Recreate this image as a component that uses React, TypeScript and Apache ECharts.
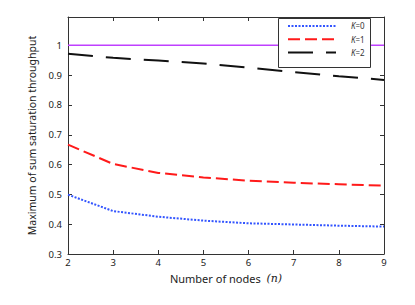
import React, { useEffect, useRef } from "react";
import * as echarts from "echarts";

const nodes = [2, 3, 4, 5, 6, 7, 8, 9];
const k0 = [0.499, 0.444, 0.425, 0.412, 0.403, 0.399, 0.395, 0.392];
const k1 = [0.667, 0.602, 0.572, 0.557, 0.546, 0.539, 0.534, 0.529];
const k2 = [0.972, 0.958, 0.949, 0.939, 0.925, 0.91, 0.896, 0.884];
const bound = [1, 1, 1, 1, 1, 1, 1, 1];
const seriesNames = ["K=0", "K=1", "K=2"];

const FONT = "Noto Sans";

export default function App() {
  const ref = useRef<HTMLDivElement>(null);
  useEffect(() => {
    const chart = echarts.init(ref.current!, undefined, { renderer: "svg" });
    const pair = (ys: number[]) => nodes.map((x, i) => [x, ys[i]]);
    const axisLine = { show: true, onZero: false, lineStyle: { color: "#333", width: 1 } };
    chart.setOption({
      animation: false,
      backgroundColor: "#fff",
      grid: { left: 68, right: 31, top: 17, bottom: 51 },
      graphic: [
        {
          type: "rect",
          z: 3,
          shape: { x: 278.5, y: 18.5, width: 92, height: 49 },
          style: { fill: "#fff", stroke: "#333", lineWidth: 1 },
        },
      ],
      legend: {
        data: seriesNames,
        orient: "vertical",
        left: 287,
        top: 21.5,
        padding: 0,
        z: 5,
        itemWidth: 48,
        itemHeight: 11,
        itemGap: 4.5,
        itemStyle: { opacity: 0 },
        formatter: (name: string) => `{k|K}{v|${name.slice(1)}}`,
        textStyle: {
          rich: {
            k: { fontFamily: FONT, fontStyle: "italic", fontSize: 8, lineHeight: 11, color: "#333", padding: [0, 0, 0, 10] },
            v: { fontFamily: FONT, fontSize: 8, lineHeight: 11, color: "#333" },
          },
        },
      },
      xAxis: [
        {
          type: "value",
          min: 2,
          max: 9,
          interval: 1,
          name: "Number of nodes  {n|(n)}",
          nameLocation: "middle",
          nameGap: 19,
          nameTextStyle: {
            fontFamily: FONT,
            fontSize: 11,
            color: "#222",
            rich: { n: { fontFamily: "DejaVu Serif", fontStyle: "italic", fontSize: 11, color: "#222" } },
          },
          axisLine,
          axisTick: { show: true, inside: true, length: 4, lineStyle: { color: "#333" } },
          axisLabel: { fontFamily: FONT, fontSize: 9.5, color: "#222", margin: 3 },
          splitLine: { show: false },
        },
        {
          type: "value",
          position: "top",
          min: 2,
          max: 9,
          interval: 1,
          axisLine,
          axisTick: { show: true, inside: true, length: 4, lineStyle: { color: "#333" } },
          axisLabel: { show: false },
          splitLine: { show: false },
        },
      ],
      yAxis: [
        {
          type: "value",
          min: 0.3,
          max: 1.095,
          interval: 0.1,
          name: "Maximum of sum saturation throughput",
          nameLocation: "middle",
          nameGap: 29,
          nameTextStyle: { fontFamily: FONT, fontSize: 10.5, color: "#222" },
          axisLine,
          axisTick: { show: true, inside: true, length: 4, lineStyle: { color: "#333" } },
          axisLabel: {
            fontFamily: FONT,
            fontSize: 9.5,
            color: "#222",
            margin: 6,
            showMaxLabel: false,
            formatter: (v: number) => String(Math.round(v * 10) / 10),
          },
          splitLine: { show: false },
        },
        {
          type: "value",
          position: "right",
          min: 0.3,
          max: 1.095,
          interval: 0.1,
          axisLine,
          axisTick: { show: true, inside: true, length: 4, lineStyle: { color: "#333" } },
          axisLabel: { show: false },
          splitLine: { show: false },
        },
      ],
      series: [
        {
          name: "bound",
          type: "line",
          data: pair(bound),
          symbol: "none",
          lineStyle: { color: "#bf40ff", width: 1.5 },
          z: 1,
        },
        {
          name: "K=0",
          type: "line",
          data: pair(k0),
          symbol: "none",
          itemStyle: { color: "#3355ff" },
          lineStyle: { color: "#3355ff", width: 2, type: [2, 1.5] },
        },
        {
          name: "K=1",
          type: "line",
          data: pair(k1),
          symbol: "none",
          itemStyle: { color: "#ff1a1a" },
          lineStyle: { color: "#ff1a1a", width: 2, type: [12, 5] },
        },
        {
          name: "K=2",
          type: "line",
          data: pair(k2),
          symbol: "none",
          itemStyle: { color: "#111" },
          lineStyle: { color: "#111", width: 2, type: [25, 13] },
        },
      ],
    });
    return () => chart.dispose();
  }, []);
  return <div ref={ref} style={{ width: 415, height: 305, margin: -8 }} />;
}
